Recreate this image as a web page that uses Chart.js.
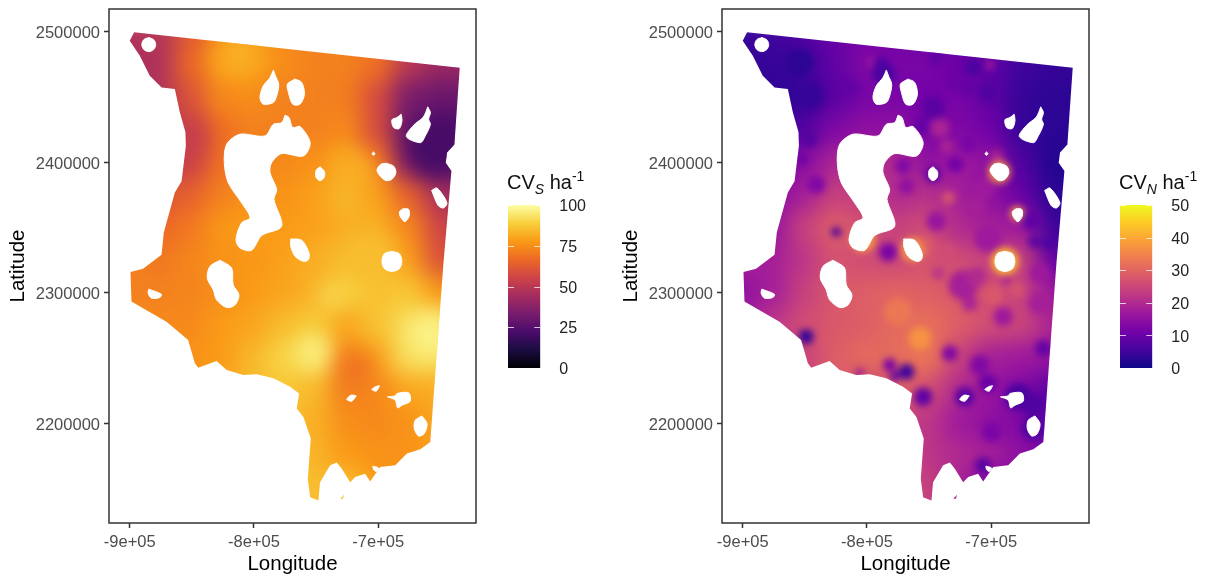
<!DOCTYPE html>
<html><head><meta charset="utf-8">
<style>
html,body{margin:0;padding:0;background:#fff;width:1213px;height:578px;overflow:hidden}
canvas{position:absolute;display:block}
.lt{position:absolute;font:20px "Liberation Sans",Arial,sans-serif;color:#111;white-space:nowrap;line-height:24px}
.lt sub{font-size:14px;font-style:italic;line-height:0;vertical-align:-5px}
.lt sup{font-size:14px;line-height:0;vertical-align:8px}
</style>
<script src="https://cdn.jsdelivr.net/npm/chart.js@4"></script>
</head><body>
<canvas id="mapS" width="490" height="578" style="left:0;top:0"></canvas>
<canvas id="mapN" width="490" height="578" style="left:613px;top:0"></canvas>
<canvas id="barS" width="110" height="200" style="left:508px;top:190px"></canvas>
<canvas id="barN" width="90" height="200" style="left:1120px;top:190px"></canvas>
<div class="lt" style="left:507px;top:170px">CV<sub>S</sub> ha<sup>-1</sup></div>
<div class="lt" style="left:1119px;top:170px">CV<sub>N</sub> ha<sup>-1</sup></div>
<script>
// ---- axes ----
const xTickValues=[-900000,-800000,-700000];
const xTickLabels=['-9e+05','-8e+05','-7e+05'];
const yTickValues=[2200000,2300000,2400000,2500000];
const xRange=[-916700,-621300];
const yRange=[2123500,2517600];
// ---- colour scales ----
const infernoStops=['#000004','#1B0C41','#4A0C6B','#781C6D','#A52C60','#CF4446','#ED6925','#FA9A16','#F7D03C','#FCFFA4'];
const plasmaStops=['#0D0887','#46039F','#7201A8','#9C179E','#BD3786','#D8576B','#ED7953','#FB9F3A','#FDCA26','#F0F921'];
const cvsTicks=[0,25,50,75,100];
const cvnTicks=[0,10,20,30,40,50];
// ---- raster grid (km) ----
const gridLon=[-925,-900,-875,-850,-825,-800,-775,-750,-725,-700,-675,-650,-625];
const gridLat=[2500,2475,2450,2425,2400,2375,2350,2325,2300,2275,2250,2225,2200,2175,2150,2125];
const cvsGrid=[
[48,48,48,62,74,76,74,72,72,70,58,46,44],
[46,46,47,66,78,78,75,72,72,68,50,42,42],
[45,45,48,60,74,75,72,72,71,58,34,30,30],
[50,50,50,54,68,72,72,72,74,58,30,22,22],
[52,52,50,54,68,73,74,76,81,68,40,24,24],
[62,62,60,64,72,76,76,79,84,79,64,46,40],
[70,70,66,70,77,78,78,79,82,82,74,56,50],
[72,72,70,73,76,77,79,82,85,86,79,60,55],
[72,72,72,73,75,78,80,83,89,86,87,78,70],
[74,74,74,74,78,80,85,88,80,86,92,92,85],
[76,76,76,76,78,84,90,92,75,80,92,92,85],
[null,null,null,78,80,85,87,84,72,74,80,82,82],
[null,null,null,null,null,84,85,82,75,74,76,80,80],
[null,null,null,null,null,86,87,83,78,76,76,79,80],
[null,null,null,null,null,null,87,85,86,79,76,null,null],
[null,null,null,null,null,null,87,85,86,79,null,null,null]];
const cvnGrid=[
[4,4,5,7,10,12,11,11,11,10,8,6,6],
[4,4,4,5,9,13,12,12,10,9,5,4,4],
[4,4,3,4,8,12,12,11,12,9,4,3,3],
[5,5,5,7,13,15,15,12,13,11,4,3,3],
[10,10,12,14,19,20,20,15,17,15,7,2,2],
[14,14,14,18,24,23,20,21,18,15,10,3,3],
[15,15,16,24,29,26,24,26,20,18,17,5,3],
[18,18,18,22,27,26,25,27,26,24,25,10,6],
[15,15,18,24,28,29,30,29,28,26,24,17,12],
[18,18,22,26,28,29,31,32,29,26,25,19,14],
[20,20,22,24,29,31,31,33,24,18,17,16,12],
[null,null,null,26,29,24,29,26,20,16,13,8,8],
[null,null,null,null,null,22,24,22,17,15,13,8,8],
[null,null,null,null,null,24,25,22,20,18,15,12,10],
[null,null,null,null,null,null,27,24,18,12,12,null,null],
[null,null,null,null,null,null,27,24,18,12,null,null,null]];
// ---- local features of the left-hand panel (km) ----
const cvsSpotLon=[-658,-752.6,-738,-811.4,-847.6,-658,-718,-717,-707];
const cvsSpotLat=[2268,2255,2297,2483,2418,2410,2242,2392,2328];
const cvsSpotCv=[97,97,93,82,52,21,68,82,85];
const cvsSpotKm=[18,12,8,18,10,20,14,15,18];
// ---- local features of the right-hand panel (km) ----
const cvnSpotLon=[-734.6,-754.8,-698.4,-679.6,-736,-795,-701,-741.4,-736,-695.7,-689,-693.6,-679,-763.4,-803.2,-757.5,-775,-840.9,-846.2,-852.2,-824.7,-783.1,-771,-768.3,-728.8,-746.8,-756.2,-714.5,-718.6,-812.6,-788.4,-781.7,-744.1,-744.1,-703.8,-746.8,-854.3,-846.2,-848.9,-733.3,-768.3,-781.7,-777.7,-754.8,-721.2,-702.4,-678.2,-666.1,-666.1,-699.7,-706.5,-658.1,-709.1,-805.9,-706.5,-713.2,-702.4,-722.6,-711.8,-687.7,-664.8,-654,-667.5,-660.8,-660.8,-690.3,-717.2,-742.7,-718.5,-702.4,-787,-729.3];
const cvnSpotLat=[2372.6,2335.5,2298.4,2302.2,2330.3,2476.2,2474.9,2426.3,2412.2,2404.5,2324.1,2392.6,2360.8,2333.1,2340.8,2265.1,2285.6,2383.1,2417.7,2402.3,2346.7,2331.3,2397.2,2381.8,2398.5,2442,2428,2472.8,2413.9,2457.5,2475.4,2466.4,2480.5,2354.9,2379.2,2390.8,2476.7,2451,2266.4,2253.5,2239.4,2244.6,2235.6,2220.2,2220.2,2230.5,2220.2,2213.8,2195.9,2193.3,2167.6,2257.4,2244.6,2238.9,2379,2366,2341.9,2306,2312.4,2309.9,2339.3,2338,2356,2315,2292,2281.7,2292,2315,2457,2454.4,2468.5,2460.8];
const cvnSpotCv=[27,28,28,27,26,17,17,19,19,19,42,36,36,36,38,37,33,13,7,10,6,12,13,15,11,8,9,6,12,9,8,8,9,16,13,8,3,4,4,13,5,12,9,9,8,10,6,7,7,12,8,9,13,14,17,18,17,18,20,17,8,6,9,17,18,17,19,22,9,7,6,10];
const cvnSpotKm=[5.5,9,8,6.5,8,5,4,8,5.5,5.5,11,9,6,10,10,9,11,7.5,5.5,4,4,7.5,6.5,6.5,6.5,9,6.5,6.5,6.5,6,6.5,5.5,6,8,6.5,6.5,11,11,6,6.5,6.5,5.5,4,7.5,8,7.5,11,9.5,9.5,8,6.5,6.5,8,3,9,8,11,12,8,3,5,5,8,8,9,8,6.5,5.5,5.5,8,9,6];
// ---- map outline and lakes (lon, lat in km) ----
const outline=[[-896.5,2499.8],[-634.4,2472.5],[-638.7,2413.8],[-644.6,2407.5],[-645.7,2399.8],[-641.1,2393.3],[-647.6,2321.5],[-658.1,2185.6],[-666.1,2180],[-676.9,2176.7],[-686.3,2167.7],[-698.4,2166.4],[-706.5,2155.4],[-710.5,2161.3],[-718.5,2158.7],[-722.6,2154.8],[-729.3,2165.1],[-733.3,2169.8],[-738.7,2167.7],[-746.8,2154.8],[-748.1,2140.8],[-754.8,2143.3],[-756.7,2157.5],[-754.3,2188.2],[-760.2,2204.8],[-765.6,2211.3],[-763.7,2222.8],[-771,2227.9],[-784.4,2234.4],[-797.8,2237.5],[-808.6,2236.9],[-822,2240.8],[-830.1,2247.7],[-844.9,2242.5],[-847.6,2245.9],[-853,2263.8],[-870.4,2277.9],[-889.3,2288.2],[-898.6,2293.3],[-899.4,2315.9],[-889.3,2318.5],[-874.4,2329.2],[-872.6,2346.2],[-863.7,2376.9],[-858.3,2385.6],[-854.8,2412.5],[-855.1,2423.1],[-859.7,2438.5],[-863.7,2456.2],[-874.4,2457.5],[-883.9,2466.4],[-891.9,2481.8],[-900,2493.3]];
const islet=[[-730.6,2142],[-727.4,2145.1],[-728.5,2142]];
const lakes=[
[[-884.7,2495.7],[-880.7,2494.1],[-879.1,2490.3],[-880.7,2486.5],[-884.7,2484.9],[-888.7,2486.5],[-890.3,2490.3],[-888.7,2494.1]],
[[-784.4,2470.8],[-782.5,2465.9],[-780.1,2460],[-781.7,2451],[-784.4,2445.9],[-792.5,2444.6],[-795.2,2449.8],[-792.5,2458.7],[-787.1,2465.1]],
[[-767,2463.9],[-761.6,2461.3],[-759.4,2452.3],[-762.9,2444.6],[-768.8,2444.6],[-772.3,2453.6],[-773.1,2460]],
[[-775,2436.2],[-771.8,2434.4],[-768.8,2426.7],[-762.9,2427.5],[-754.8,2415.1],[-760.2,2404.9],[-777.7,2406.7],[-785.8,2399.8],[-787.1,2392.1],[-781.7,2379.2],[-783.9,2371.6],[-777.7,2351],[-793.8,2343.9],[-801.9,2332.6],[-811.3,2334.4],[-814.5,2340.8],[-810,2353.6],[-803.2,2357.5],[-810,2369],[-820.7,2384.4],[-823.9,2399.8],[-822,2413.9],[-811.3,2421.6],[-791.1,2420.3],[-784.4,2429.2],[-777.7,2430.5]],
[[-746.8,2396.6],[-743.3,2393],[-743.5,2388.5],[-746.8,2386],[-750,2388.5],[-750,2394]],
[[-703.8,2408],[-702.6,2406.7],[-703.8,2405.4],[-705,2406.7]],
[[-693.6,2399.4],[-687.5,2397],[-685.8,2392],[-689,2387],[-693.6,2386],[-698,2389],[-701,2394],[-698,2398.5]],
[[-680,2364.5],[-675.5,2364],[-675,2359],[-678.5,2354.5],[-682,2358],[-683,2362]],
[[-657,2378.5],[-652.7,2380.3],[-644.7,2369],[-647.5,2365],[-651.8,2367]],
[[-681.5,2436.9],[-680.9,2431.8],[-683.1,2425.9],[-687.6,2426.7],[-689,2432.6],[-684.9,2434.4]],
[[-660.2,2442.6],[-658,2438.2],[-659.4,2433.1],[-658,2429.2],[-662.1,2420.3],[-666.1,2415.1],[-677.4,2419.8],[-671.5,2428.5],[-664,2434.4],[-661.3,2439.5]],
[[-770.4,2341.3],[-761.6,2340.3],[-755.7,2330.5],[-756.2,2325.4],[-760.2,2324.1],[-767,2328],[-770.4,2335.7]],
[[-689,2331.8],[-683,2330],[-681,2324],[-683,2318.5],[-689,2316.4],[-695,2318.5],[-697,2324],[-695,2330]],
[[-827.4,2325],[-818,2319],[-816.7,2306.1],[-812.1,2298.4],[-815.3,2290.7],[-822,2288.7],[-830.1,2294.6],[-832.8,2302.3],[-837.6,2311.2],[-835.5,2320.2]],
[[-884.7,2302.8],[-874.5,2298.9],[-875.8,2296.4],[-882.5,2295.9],[-885.2,2299.7]],
[[-717.7,2221],[-721.2,2216.9],[-725.3,2218.2],[-722,2221.5]],
[[-698.9,2228.7],[-701.6,2224.6],[-705.1,2225.9],[-701.6,2228.2]],
[[-692.5,2220.2],[-686.3,2221],[-684.9,2222.8],[-675.5,2223.3],[-674.2,2216.9],[-680.9,2213.8],[-684.4,2211.8],[-686.3,2217.7]],
[[-664.8,2205.6],[-660.7,2199.7],[-662.9,2192],[-667.5,2190.2],[-671,2195.9],[-670.2,2202.3]],
[[-704.3,2167.1],[-699.7,2165.6],[-701.6,2163],[-703.8,2164.6]]
];
// ---- helpers ----
const FONT='"Liberation Sans",Arial,sans-serif';
function hex(h){return [1,3,5].map(i=>parseInt(h.substr(i,2),16));}
function ramp(stops,t){
  t=Math.max(0,Math.min(1,t))*(stops.length-1);
  const i=Math.min(stops.length-2,Math.floor(t)),f=t-i,a=hex(stops[i]),b=hex(stops[i+1]);
  return 'rgb('+a.map((v,k)=>Math.round(v+(b[k]-v)*f)).join(',')+')';
}
const km=v=>v*1000;
const labelNudge={id:'labelNudge',beforeDraw(chart){
  chart.scales.y.getLabelItems().forEach(it=>{it.textOffset+=1.8;});
}};
const clipPlugin={id:'clipToMap',
  beforeDatasetDraw(chart,args){
    const ds=chart.data.datasets[args.index];
    if(!ds.raster)return;
    const ctrl=chart.getDatasetMeta(args.index).controller;
    const off=document.createElement('canvas');off.width=chart.width;off.height=chart.height;
    chart.$layer={main:ctrl._ctx,off};
    ctrl._ctx=off.getContext('2d');
  },
  afterDatasetDraw(chart,args){
    const ds=chart.data.datasets[args.index];
    if(!ds.raster)return;
    const ctrl=chart.getDatasetMeta(args.index).controller;
    const c=chart.$layer.main,X=chart.scales.x,Y=chart.scales.y;
    ctrl._ctx=c;
    c.save();c.beginPath();
    [outline,islet].forEach(poly=>{
      poly.forEach((p,i)=>{
        const px=X.getPixelForValue(km(p[0])),py=Y.getPixelForValue(km(p[1]));
        i?c.lineTo(px,py):c.moveTo(px,py);
      });c.closePath();
    });
    c.clip();c.filter='blur('+ds.raster+'px)';
    c.drawImage(chart.$layer.off,0,0);
    c.restore();
  },
  afterDraw(chart){
    const a=chart.chartArea,c=chart.ctx;
    c.save();c.strokeStyle='#333';c.lineWidth=1.5;
    c.strokeRect(a.left,a.top,a.right-a.left,a.bottom-a.top);c.restore();
  }
};
function makeMap(id,grid,stops,max,sLon,sLat,sCv,sKm,sBlur){
  const pts=[],cols=[];
  grid.forEach((row,r)=>row.forEach((v,k)=>{
    if(v===null)return;
    pts.push({x:km(gridLon[k]),y:km(gridLat[r])});
    cols.push(ramp(stops,v/max));
  }));
  const datasets=[{type:'scatter',raster:11,clip:false,order:20,data:pts,showLine:false,pointStyle:'rect',pointRadius:24,pointBorderWidth:0,pointBackgroundColor:cols,pointHoverRadius:24},
    {type:'scatter',raster:sBlur,clip:false,order:10,
      data:sLon.map((v,i)=>({x:km(v),y:km(sLat[i])})),showLine:false,pointStyle:'circle',pointBorderWidth:0,
      pointBackgroundColor:sCv.map(v=>ramp(stops,v/max)),
      pointRadius:c=>{const s=c.chart.scales.x;return Math.abs(s.getPixelForValue(km(sKm[c.dataIndex]))-s.getPixelForValue(0));}}];
  lakes.forEach(l=>{
    const d=l.concat([l[0]]).map(p=>({x:km(p[0]),y:km(p[1])}));
    datasets.push({type:'scatter',order:1,data:d,showLine:true,fill:'shape',tension:0.3,backgroundColor:'#fff',borderColor:'#fff',borderWidth:1,pointRadius:0,pointHoverRadius:0});
  });
  return new Chart(document.getElementById(id),{
    type:'scatter',data:{datasets},plugins:[clipPlugin,labelNudge],
    options:{responsive:false,animation:false,events:[],
      layout:{autoPadding:false,padding:{top:9,right:14,left:0,bottom:0}},
      plugins:{legend:{display:false},tooltip:{enabled:false}},
      scales:{
        x:{type:'linear',min:xRange[0],max:xRange[1],
          afterBuildTicks:s=>{s.ticks=xTickValues.map(v=>({value:v}));},
          afterFit:s=>{s.height=55;s.paddingLeft=0;s.paddingRight=0;},
          grid:{drawOnChartArea:false,drawTicks:true,tickLength:5,tickColor:'#333',tickWidth:1.5},
          border:{display:false},
          ticks:{autoSkip:false,maxRotation:0,padding:5,color:'#4D4D4D',font:{family:FONT,size:16.5},
            callback:v=>xTickLabels[xTickValues.indexOf(v)]},
          title:{display:true,text:'Longitude',color:'#000',font:{family:FONT,size:20.5},padding:{top:0,bottom:1}}},
        y:{type:'linear',min:yRange[0],max:yRange[1],
          afterBuildTicks:s=>{s.ticks=yTickValues.map(v=>({value:v}));},
          afterFit:s=>{s.width=109;s.paddingTop=0;s.paddingBottom=0;},
          grid:{drawOnChartArea:false,drawTicks:true,tickLength:5,tickColor:'#333',tickWidth:1.5},
          border:{display:false},
          ticks:{autoSkip:false,padding:4,color:'#4D4D4D',font:{family:FONT,size:16.5},callback:v=>String(v)},
          title:{display:true,text:'Latitude',color:'#000',font:{family:FONT,size:20.5},padding:{top:6,bottom:0}}}
      }}
  });
}
function makeBar(id,stops,ticks,max){
  const tickMarks={id:'barTicks',afterDatasetsDraw(chart){
    const a=chart.chartArea,c=chart.ctx,Y=chart.scales.y;
    c.save();c.strokeStyle='rgba(255,255,255,0.75)';c.lineWidth=1;
    ticks.forEach(v=>{const p=Math.round(Y.getPixelForValue(v))+0.5;
      c.beginPath();c.moveTo(a.left,p);c.lineTo(a.left+6,p);c.moveTo(a.right-6,p);c.lineTo(a.right,p);c.stroke();});
    c.restore();
  }};
  return new Chart(document.getElementById(id),{
    type:'bar',
    data:{labels:['cv'],datasets:[{data:[[0,max]],barPercentage:1,categoryPercentage:1,borderSkipped:false,
      backgroundColor:c=>{
        const a=c.chart.chartArea;if(!a)return '#000';
        const g=c.chart.ctx.createLinearGradient(0,a.bottom,0,a.top);
        stops.forEach((s,i)=>g.addColorStop(i/(stops.length-1),s));return g;}}]},
    plugins:[tickMarks,labelNudge],
    options:{responsive:false,animation:false,events:[],
      layout:{autoPadding:false,padding:{top:15,bottom:22,left:0,right:0}},
      plugins:{legend:{display:false},tooltip:{enabled:false}},
      scales:{
        x:{display:false},
        y:{position:'right',min:0,max:max,
          afterBuildTicks:s=>{s.ticks=ticks.map(v=>({value:v}));},
          afterFit:s=>{s.width=document.getElementById(id).width-32.3;s.paddingTop=0;s.paddingBottom=0;},
          grid:{display:false},border:{display:false},
          ticks:{padding:11,color:'#222',font:{family:FONT,size:16},autoSkip:false}}
      }}
  });
}
makeMap('mapS',cvsGrid,infernoStops,100,cvsSpotLon,cvsSpotLat,cvsSpotCv,cvsSpotKm,11);
makeMap('mapN',cvnGrid,plasmaStops,50,cvnSpotLon,cvnSpotLat,cvnSpotCv,cvnSpotKm,3.5);
makeBar('barS',infernoStops,cvsTicks,100);
makeBar('barN',plasmaStops,cvnTicks,50);
</script>
</body></html>
